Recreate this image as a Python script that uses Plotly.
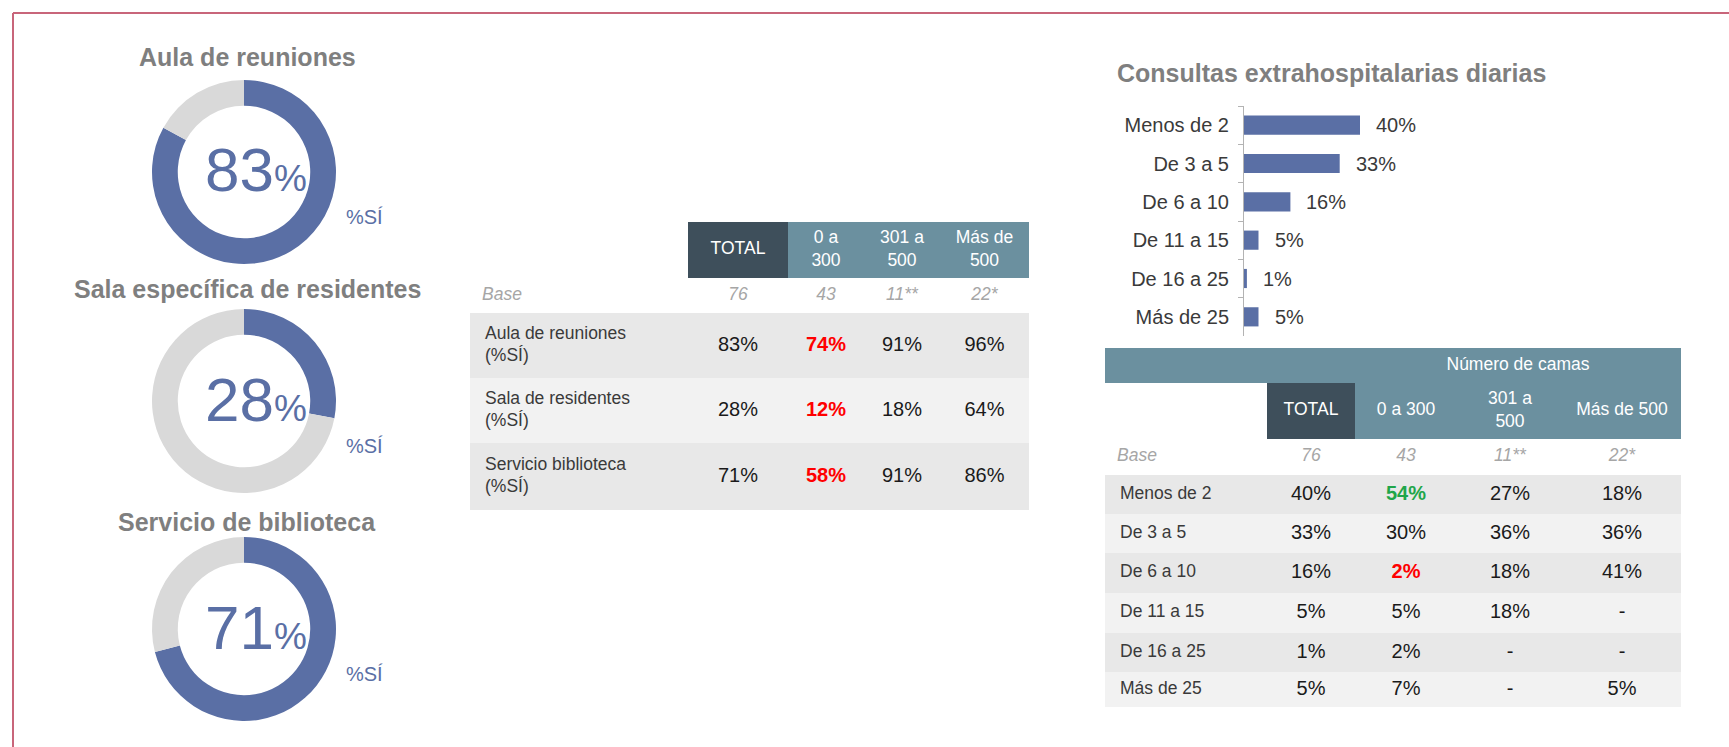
import plotly.graph_objects as go

W, H = 1729, 747

# ---------------- data ----------------
donut_titles = ["Aula de reuniones", "Sala específica de residentes", "Servicio de biblioteca"]
donut_si = [83, 28, 71]

mid_rows = ["Aula de reuniones<br>(%SÍ)", "Sala de residentes<br>(%SÍ)", "Servicio biblioteca<br>(%SÍ)"]
mid_cols = ["TOTAL", "0 a<br>300", "301 a<br>500", "Más de<br>500"]
mid_base = ["76", "43", "11**", "22*"]
mid_values = [[83, 74, 91, 96],
              [28, 12, 18, 64],
              [71, 58, 91, 86]]
mid_sig = [[0, -1, 0, 0],
           [0, -1, 0, 0],
           [0, -1, 0, 0]]

consultas_title = "Consultas extrahospitalarias diarias"
consultas_cats = ["Menos de 2", "De 3 a 5", "De 6 a 10", "De 11 a 15", "De 16 a 25", "Más de 25"]
consultas_total = [40, 33, 16, 5, 1, 5]

camas_group = "Número de camas"
camas_cols = ["TOTAL", "0 a 300", "301 a<br>500", "Más de 500"]
camas_base = ["76", "43", "11**", "22*"]
camas_values = [[40, 54, 27, 18],
                [33, 30, 36, 36],
                [16, 2, 18, 41],
                [5, 5, 18, None],
                [1, 2, None, None],
                [5, 7, None, 5]]
camas_sig = [[0, 1, 0, 0],
             [0, 0, 0, 0],
             [0, -1, 0, 0],
             [0, 0, 0, 0],
             [0, 0, 0, 0],
             [0, 0, 0, 0]]

# ---------------- style ----------------
FONT = "Liberation Sans, Arial, Helvetica, sans-serif"
BLUE = "#5a6fa5"
RING_GREY = "#d9d9d9"
TITLE_GREY = "#7f7f7f"
DARK = "#3e4f5b"
TEAL = "#6b909f"
ROW1 = "#e8e8e8"
ROW2 = "#f2f2f2"
RED = "#ff0000"
GREEN = "#1fa64a"
TXT = "#1a1a1a"
LABEL = "#3a3a3a"
BASEC = "#a6a6a6"
BORDER = "#c8657a"


def fx(x):
    return x / W


def fy(y):
    return 1 - y / H


fig = go.Figure()
annotations = []

# ---------------- donuts ----------------
donut_cx = 244
donut_cy = [172, 401, 629]
donut_r = 92
title_y = [57, 289, 522]
for i, v in enumerate(donut_si):
    cy = donut_cy[i]
    fig.add_trace(go.Pie(
        values=[v, 100 - v], marker=dict(colors=[BLUE, RING_GREY], line=dict(width=0)),
        hole=0.72, sort=False, direction="clockwise", rotation=0,
        textinfo="none", hoverinfo="skip", showlegend=False,
        domain=dict(x=[fx(donut_cx - donut_r), fx(donut_cx + donut_r)],
                    y=[fy(cy + donut_r), fy(cy - donut_r)])))
    annotations.append(dict(
        x=fx(247), y=fy(title_y[i]), xref="paper", yref="paper", showarrow=False,
        text="<b>%s</b>" % donut_titles[i], font=dict(family=FONT, size=25, color=TITLE_GREY),
        xanchor="center", yanchor="middle"))
    annotations.append(dict(
        x=fx(donut_cx + 12), y=fy(cy - 2), xref="paper", yref="paper", showarrow=False,
        text="%d<span style='font-size:37px'>%%</span>" % v,
        font=dict(family=FONT, size=62, color=BLUE), xanchor="center", yanchor="middle"))
    annotations.append(dict(
        x=fx(donut_cx + 120), y=fy(cy + 45), xref="paper", yref="paper", showarrow=False,
        text="%SÍ", font=dict(family=FONT, size=20, color=BLUE),
        xanchor="center", yanchor="middle"))


def color_for(s):
    return RED if s < 0 else (GREEN if s > 0 else TXT)


def fmt_val(v, s):
    t = "-" if v is None else "%d%%" % v
    return "<b>%s</b>" % t if s != 0 else t


def mid(a, b):
    return (a + b) / 2


# ---------------- middle table geometry ----------------
mx = [470, 688, 788, 864, 940, 1029]
my = [222, 278, 313, 378, 443, 510]
z_mid = [[None, 3, 4, 4, 4], [None] * 5]
for r in range(len(mid_rows)):
    z_mid.append([1 if r % 2 == 0 else 2] * 5)

# ---------------- right table geometry ----------------
cx_ = [1105, 1267, 1355, 1457, 1563, 1681]
cy_ = [348, 383, 439, 475, 514, 553, 593, 633, 672, 707]
z_cam = [[4] * 5, [None, 3, 4, 4, 4], [None] * 5]
for r in range(len(consultas_cats)):
    z_cam.append([1 if r % 2 == 0 else 2] * 5)

CS = [[0, ROW1], [1 / 3, ROW2], [2 / 3, DARK], [1, TEAL]]
for xe, ye, z in [(mx, my, z_mid), (cx_, cy_, z_cam)]:
    fig.add_trace(go.Heatmap(x=xe, y=ye, z=z, zmin=1, zmax=4, colorscale=CS,
                             showscale=False, hoverinfo="skip", xgap=0, ygap=0,
                             xaxis="x", yaxis="y"))


def add_text(xs, ys, texts, size, colors, pos="middle center"):
    fig.add_trace(go.Scatter(x=xs, y=ys, text=texts, mode="text", textposition=pos,
                             textfont=dict(family=FONT, size=size, color=colors),
                             hoverinfo="skip", showlegend=False, xaxis="x", yaxis="y",
                             cliponaxis=False))


def table_text(xe, ye, row0, cols, base, rows, values, sig, label_x):
    col_c = [mid(xe[j + 1], xe[j + 2]) for j in range(len(cols))]
    hy = mid(ye[row0], ye[row0 + 1])
    add_text(col_c, [hy] * len(cols), cols, 17.5, "white")
    by = mid(ye[row0 + 1], ye[row0 + 2])
    add_text([label_x - 3], [by], ["<i>Base</i>"], 17.5, BASEC, "middle right")
    add_text(col_c, [by] * len(base), ["<i>%s</i>" % b for b in base], 17.5, BASEC)
    ry = [mid(ye[row0 + 2 + r], ye[row0 + 3 + r]) for r in range(len(rows))]
    add_text([label_x] * len(rows), ry, rows, 17.5, LABEL, "middle right")
    xs, ys, ts, cs = [], [], [], []
    for r in range(len(rows)):
        for j in range(len(cols)):
            xs.append(col_c[j]); ys.append(ry[r])
            ts.append(fmt_val(values[r][j], sig[r][j]))
            cs.append(color_for(sig[r][j]))
    add_text(xs, ys, ts, 20, cs)


table_text(mx, my, 0, mid_cols, mid_base, mid_rows, mid_values, mid_sig, 485)
table_text(cx_, cy_, 1, camas_cols, camas_base, consultas_cats, camas_values, camas_sig, 1120)
add_text([mid(cx_[2], cx_[5])], [mid(cy_[0], cy_[1])], [camas_group], 17.5, "white")

# ---------------- bar chart ----------------
PX_PER_PCT = 2.9
bx0, bx1 = 1244, 1600
by0, by1 = 106, 336
fig.add_trace(go.Bar(x=consultas_total, y=consultas_cats, orientation="h",
                     marker=dict(color=BLUE, line=dict(width=0)), width=0.5,
                     xaxis="x2", yaxis="y2", hoverinfo="skip", showlegend=False))
for c, v in zip(consultas_cats, consultas_total):
    annotations.append(dict(x=v, y=c, xref="x2", yref="y2", showarrow=False,
                            text="%d%%" % v, xanchor="left", yanchor="middle", xshift=14,
                            font=dict(family=FONT, size=20, color=LABEL)))
annotations.append(dict(x=fx(1115), y=fy(73), xref="paper", yref="paper", showarrow=False,
                        text="<b>%s</b>" % consultas_title, xanchor="left", yanchor="middle",
                        font=dict(family=FONT, size=25, color=TITLE_GREY)))

# ---------------- border ----------------
shapes = [
    dict(type="line", xref="paper", yref="paper", x0=fx(13), x1=1, y0=fy(13), y1=fy(13),
         line=dict(color=BORDER, width=2)),
    dict(type="line", xref="paper", yref="paper", x0=fx(13), x1=fx(13), y0=fy(13), y1=0,
         line=dict(color=BORDER, width=2)),
]

fig.update_layout(
    width=W, height=H, margin=dict(l=0, r=0, t=0, b=0),
    paper_bgcolor="white", plot_bgcolor="rgba(0,0,0,0)",
    showlegend=False, hovermode=False,
    font=dict(family=FONT),
    xaxis=dict(domain=[0, 1], range=[0, W], visible=False, fixedrange=True),
    yaxis=dict(domain=[0, 1], range=[H, 0], visible=False, fixedrange=True),
    xaxis2=dict(domain=[fx(bx0), fx(bx1)], range=[0, (bx1 - bx0) / PX_PER_PCT],
                visible=False, anchor="y2", fixedrange=True),
    yaxis2=dict(domain=[fy(by1), fy(by0)], anchor="x2", type="category",
                autorange="reversed", showline=True, linecolor="#b3b3b3", linewidth=1,
                ticks="outside", tickson="boundaries", ticklen=5, tickcolor="#b3b3b3",
                showgrid=False, zeroline=False, ticklabelstandoff=10,
                tickfont=dict(family=FONT, size=20, color=LABEL), fixedrange=True),
    annotations=annotations, shapes=shapes,
)

fig.write_html("out.html", config={"displayModeBar": False},
               post_script="document.body.style.margin='0';document.body.style.overflow='hidden';")
